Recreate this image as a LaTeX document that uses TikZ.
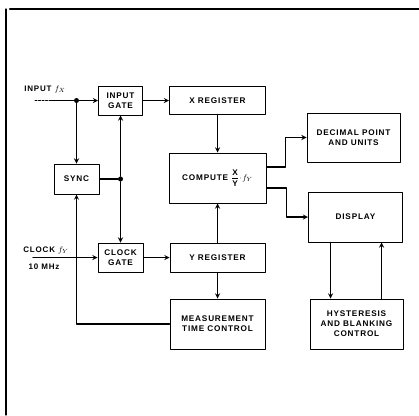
\documentclass[tikz,border=0pt]{standalone}
\usepackage{amsmath}
\usepackage{fontspec}
\setmainfont{Liberation Sans}
\newfontfamily\lblfont[LetterSpace=10]{Liberation Sans}
\usepackage{tikz}

\begin{document}
\begin{tikzpicture}[x=1pt,y=-1pt,>=stealth,line cap=round,line join=round,
  blk/.style={draw,line width=1pt,align=center,inner sep=1pt,
    font=\lblfont\fontsize{8.2}{10}\selectfont\bfseries},
  lab/.style={font=\lblfont\fontsize{8}{10}\selectfont\bfseries,inner sep=0pt},
  wire/.style={line width=1.3pt},
  dot/.style={circle,fill,inner sep=0pt,minimum size=5pt}]
\useasboundingbox (0,0) rectangle (419,415);
\draw[line width=2.4pt] (10,9) -- (419,9);
\draw[line width=1.3pt] (6,9) -- (6,415);
% blocks
\node[blk,minimum width=44pt,minimum height=29pt] (igate) at (120.5,100.5) {INPUT\\GATE};
\node[blk,minimum width=96pt,minimum height=28pt] (xreg) at (217.5,100.5) {X REGISTER};
\node[blk,minimum width=45pt,minimum height=30pt] (sync) at (76.5,179) {SYNC};
\node[blk,minimum width=97pt,minimum height=50pt] (comp) at (217.5,178) {COMPUTE $\dfrac{\mathbf{X}}{\mathbf{Y}}\!\cdot\! f_Y$};
\node[blk,minimum width=93pt,minimum height=49pt] (dec) at (353.5,137.5) {DECIMAL POINT\\AND UNITS};
\node[blk,minimum width=94pt,minimum height=50pt] (disp) at (355.5,217) {DISPLAY};
\node[blk,minimum width=45pt,minimum height=29pt] (cgate) at (120.5,257.5) {CLOCK\\GATE};
\node[blk,minimum width=95pt,minimum height=29pt] (yreg) at (217.5,257.5) {Y REGISTER};
\node[blk,minimum width=95pt,minimum height=50pt] (meas) at (217.5,324) {MEASUREMENT\\TIME CONTROL};
\node[blk,minimum width=93pt,minimum height=50pt] (hyst) at (356.5,324) {HYSTERESIS\\AND BLANKING\\CONTROL};
% inputs
\node[lab] (inlab) at (45,89) {INPUT $f_X$};
\node[lab] (cklab) at (46,250) {CLOCK $f_Y$};
\node[lab] (mhz) at (44,267) {10 MHz};
\coordinate (in0) at (35,100.5);
\coordinate (in1) at (50,100.5);
\coordinate (ck) at (33,257.5);
\node[dot] (j1) at (76.5,100.5) {};
\node[dot] (j2) at (120.5,179) {};
% connectors
\draw[wire,line width=1pt,dash pattern=on 2pt off 1.5pt] (in0) -- (in1);
\draw[wire,->] (in1) -- (igate.west);
\draw[wire,->] (j1) -- (sync.north);
\draw[wire,->] (igate) -- (xreg);
\draw[wire] (sync.east) -- (j2);
\draw[wire,->] (j2) -- (igate.south);
\draw[wire,->] (j2) -- (cgate.north);
\draw[wire,->] (ck) -- (cgate.west);
\draw[wire,->] (cgate) -- (yreg);
\draw[wire,->] (xreg) -- (comp);
\draw[wire,->] (yreg) -- (comp);
\draw[wire,->] (yreg) -- (meas);
\draw[wire,->] (meas.west) -| (sync.south);
\draw[wire,->] ([yshift=11pt]comp.east) -- ++(19,0) |- (dec.west);
\draw[wire,->] ([yshift=-10pt]comp.east) -- ++(20,0) |- (disp.west);
\draw[wire,->] ([xshift=-25pt]disp.south) -- ([xshift=-25pt]disp.south |- hyst.north);
\draw[wire,->] ([xshift=25pt]hyst.north) -- ([xshift=25pt]hyst.north |- disp.south);
\end{tikzpicture}
\end{document}
